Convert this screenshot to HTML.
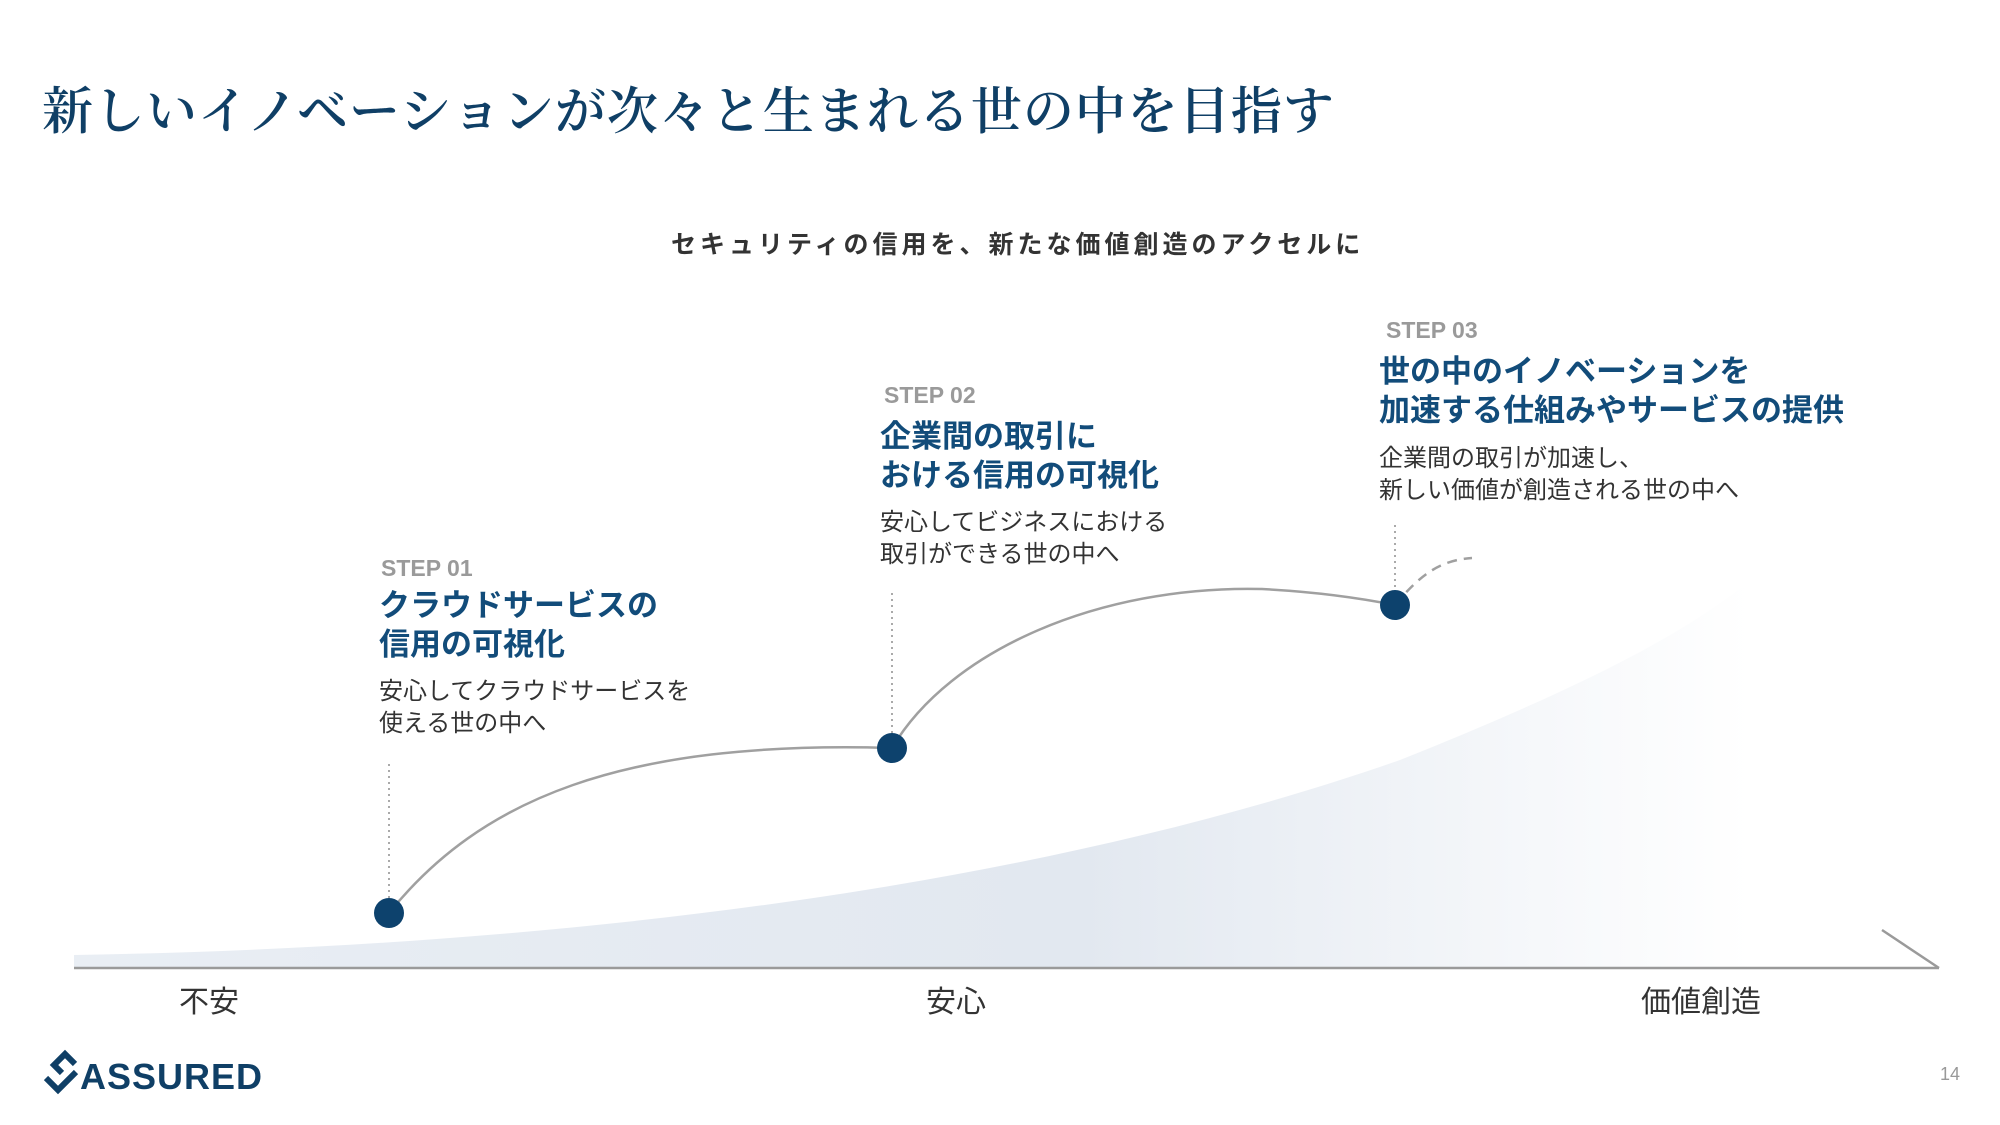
<!DOCTYPE html>
<html><head><meta charset="utf-8"><style>
body{margin:0;width:2000px;height:1125px;background:#fff;position:relative;overflow:hidden;font-family:"Liberation Sans","Noto Sans CJK JP",sans-serif}
.a{position:absolute;white-space:nowrap}
.t{font-family:"Liberation Serif","Noto Serif CJK JP",serif;font-size:51px;color:#0f3f66;left:42px;top:70px;font-weight:600;letter-spacing:1px}
.st{color:#9a9a9a;font-weight:bold;font-size:23px}
.h{color:#124c7a;font-weight:bold;font-size:31px;line-height:39px}
.b{color:#333;font-size:24px;line-height:32px}
.ax{font-size:30px;color:#333}
</style></head><body>
<svg class="a" style="left:0;top:0" width="2000" height="1125">
<defs><linearGradient id="g" x1="0" x2="1" y1="0" y2="0">
<stop offset="0" stop-color="#e9eef4"/><stop offset="0.6" stop-color="#e2e8f0"/><stop offset="1" stop-color="#ffffff"/></linearGradient></defs>
<path d="M74,955 C500,948 1000,900 1400,760 C1550,700 1680,640 1750,580 L1750,968 L74,968 Z" fill="url(#g)"/>
<line x1="74" y1="968" x2="1939" y2="968" stroke="#9a9a9a" stroke-width="2.5"/>
<line x1="1882" y1="930" x2="1939" y2="968" stroke="#9a9a9a" stroke-width="2.5"/>
<path d="M389,913 C480,800 620,740 892,748" fill="none" stroke="#a0a0a0" stroke-width="2.5"/>
<path d="M892,748 C950,650 1100,585 1262,589 C1320,592 1360,598 1395,605" fill="none" stroke="#a0a0a0" stroke-width="2.5"/>
<path d="M1395,605 C1420,575 1440,560 1472,558" fill="none" stroke="#a0a0a0" stroke-width="2.5" stroke-dasharray="10,7"/>
<g stroke="#aaa" stroke-width="2" stroke-dasharray="2,4">
<line x1="389" y1="764" x2="389" y2="898"/><line x1="892" y1="593" x2="892" y2="733"/><line x1="1395" y1="525" x2="1395" y2="590"/></g>
<g fill="#0d426d"><circle cx="389" cy="913" r="15"/><circle cx="892" cy="748" r="15"/><circle cx="1395" cy="605" r="15"/></g>
<g fill="none" stroke="#0f3f66" stroke-width="6"><path d="M62,1073 L54,1065 L65,1054 L75,1064"/><path d="M46,1078 L58,1090 L76,1072"/></g>
</svg>
<div class="a t">新しいイノベーションが次々と生まれる世の中を目指す</div>
<div class="a" style="left:671px;top:225px;font-size:25px;font-weight:bold;color:#333;letter-spacing:4px">セキュリティの信用を、新たな価値創造のアクセルに</div>
<div class="a st" style="left:381px;top:555px">STEP 01</div>
<div class="a h" style="left:379px;top:586px">クラウドサービスの<br>信用の可視化</div>
<div class="a b" style="left:379px;top:676px">安心してクラウドサービスを<br>使える世の中へ</div>
<div class="a st" style="left:884px;top:382px">STEP 02</div>
<div class="a h" style="left:880px;top:417px">企業間の取引に<br>おける信用の可視化</div>
<div class="a b" style="left:880px;top:507px">安心してビジネスにおける<br>取引ができる世の中へ</div>
<div class="a st" style="left:1386px;top:317px">STEP 03</div>
<div class="a h" style="left:1379px;top:352px">世の中のイノベーションを<br>加速する仕組みやサービスの提供</div>
<div class="a b" style="left:1379px;top:443px">企業間の取引が加速し、<br>新しい価値が創造される世の中へ</div>
<div class="a ax" style="left:179px;top:977px">不安</div>
<div class="a ax" style="left:926px;top:977px">安心</div>
<div class="a ax" style="left:1641px;top:977px">価値創造</div>
<div class="a" style="left:80px;top:1056px;font-size:36px;font-weight:bold;color:#0f3f66;letter-spacing:1px">ASSURED</div>
<div class="a" style="left:1940px;top:1064px;font-size:18px;color:#999">14</div>
</body></html>
